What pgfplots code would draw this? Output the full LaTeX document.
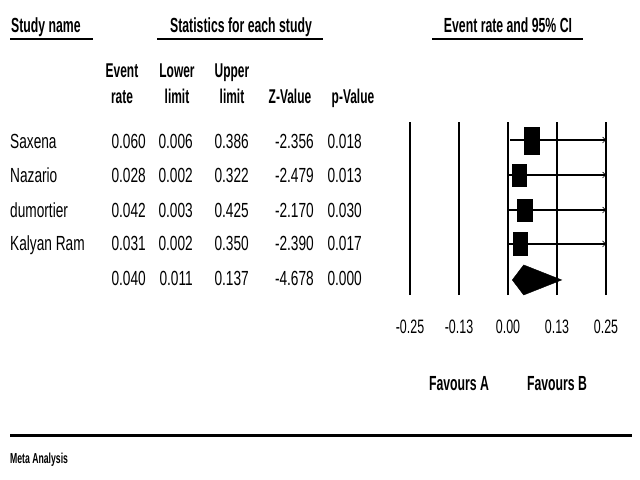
\documentclass[border=0pt]{standalone}
\usepackage{fontspec}
\setmainfont[FakeStretch=0.67,BoldFeatures={FakeStretch=0.6}]{Liberation Sans}
\newfontfamily\tickfam[FakeStretch=0.64]{Liberation Sans}
\usepackage{pgfplots}
\pgfplotsset{compat=1.18}
\usetikzlibrary{arrows.meta}
\newcommand\datfont{\fontsize{20.5}{22}\selectfont}
\newcommand\colfont{\fontsize{20}{22}\selectfont\bfseries}
\newcommand\hdfont{\fontsize{20.5}{22}\selectfont\bfseries}
\newcommand\tickfont{\tickfam\fontsize{19.5}{21}\selectfont}
\newcommand\dat[3]{\node[anchor=base east,inner sep=0,font=\datfont] at (#1bp,-#2bp) {#3};}
\newcommand\nm[2]{\node[anchor=base west,inner sep=0,font=\datfont] at (10bp,-#1bp) {#2};}
\newcommand\col[3]{\node[anchor=base,inner sep=0,font=\colfont] at (#1bp,-#2bp) {#3};}
\begin{document}
\begin{tikzpicture}
\path[use as bounding box] (0,0) rectangle (640bp,-480bp);
% headers
\node[anchor=base west,inner sep=0,font=\hdfont] at (11bp,-32bp) {Study name};
\node[anchor=base,inner sep=0,font=\hdfont] at (241bp,-32bp) {Statistics for each study};
\node[anchor=base,inner sep=0,font=\hdfont] at (508bp,-32bp) {Event rate and 95\% CI};
\draw[line width=2bp] (10bp,-38.5bp) -- (93bp,-38.5bp);
\draw[line width=2bp] (157bp,-38.5bp) -- (323bp,-38.5bp);
\draw[line width=2bp] (432bp,-38.5bp) -- (583bp,-38.5bp);
% column headers
\col{122}{77}{Event}\col{122}{103}{rate}
\col{177}{77}{Lower}\col{177}{103}{limit}
\col{232}{77}{Upper}\col{232}{103}{limit}
\col{290}{103}{Z-Value}
\col{353}{103}{p-Value}
% names
\nm{148}{Saxena}
\nm{182}{Nazario}
\nm{217}{dumortier}
\nm{250}{Kalyan Ram}
% data
\dat{146}{148}{0.060}\dat{193}{148}{0.006}\dat{249}{148}{0.386}\dat{314}{148}{-2.356}\dat{362}{148}{0.018}
\dat{146}{182}{0.028}\dat{193}{182}{0.002}\dat{249}{182}{0.322}\dat{314}{182}{-2.479}\dat{362}{182}{0.013}
\dat{146}{217}{0.042}\dat{193}{217}{0.003}\dat{249}{217}{0.425}\dat{314}{217}{-2.170}\dat{362}{217}{0.030}
\dat{146}{250}{0.031}\dat{193}{250}{0.002}\dat{249}{250}{0.350}\dat{314}{250}{-2.390}\dat{362}{250}{0.017}
\dat{146}{285}{0.040}\dat{193}{285}{0.011}\dat{249}{285}{0.137}\dat{314}{285}{-4.678}\dat{362}{285}{0.000}
% forest plot
\begin{axis}[at={(410bp,-295bp)}, anchor=south west, scale only axis,
  width=196bp, height=173bp,
  xmin=-0.25, xmax=0.25, ymin=-5.43, ymax=-0.486,
  axis line style={draw=none},
  xtick={-0.25,-0.125,0,0.125,0.25},
  xticklabels={-0.25,-0.13,0.00,0.13,0.25},
  ytick=\empty, major tick length=0pt,
  xmajorgrids, grid style={black, line width=1.4bp},
  clip=false,
  xticklabel style={anchor=base, font=\tickfont, inner sep=0pt},
  xticklabel shift=38bp,
]
\addplot[black, line width=1.8bp, -{Straight Barb[length=3bp,width=6bp,line width=0.6bp]}] coordinates {(0.006,-1) (0.25,-1)};
\addplot[black, line width=1.8bp, -{Straight Barb[length=3bp,width=6bp,line width=0.6bp]}] coordinates {(0.002,-2) (0.25,-2)};
\addplot[black, line width=1.8bp, -{Straight Barb[length=3bp,width=6bp,line width=0.6bp]}] coordinates {(0.003,-3) (0.25,-3)};
\addplot[black, line width=1.8bp, -{Straight Barb[length=3bp,width=6bp,line width=0.6bp]}] coordinates {(0.002,-3.97) (0.25,-3.97)};
\addplot[only marks, mark=square*, mark size=7.8pt, mark options={yscale=1.75, fill=black, draw=black}] coordinates {(0.060,-1.03)};
\addplot[only marks, mark=square*, mark size=7pt, mark options={yscale=1.57, fill=black, draw=black}] coordinates {(0.028,-2)};
\addplot[only marks, mark=square*, mark size=7.4pt, mark options={yscale=1.47, fill=black, draw=black}] coordinates {(0.042,-3)};
\addplot[only marks, mark=square*, mark size=7pt, mark options={yscale=1.64, fill=black, draw=black}] coordinates {(0.031,-3.97)};
\addplot[fill=black, draw=black] coordinates {(0.011,-5) (0.040,-4.571) (0.137,-5) (0.040,-5.43)} -- cycle;
\end{axis}
\node[anchor=base,inner sep=0,font=\hdfont] at (459bp,-390bp) {Favours A};
\node[anchor=base,inner sep=0,font=\hdfont] at (557bp,-390bp) {Favours B};
\draw[line width=3bp] (10bp,-435bp) -- (632bp,-435bp);
\node[anchor=base west,inner sep=0,font=\fontsize{14.5}{16}\selectfont\bfseries] at (10bp,-463bp) {Meta Analysis};
\end{tikzpicture}
\end{document}
